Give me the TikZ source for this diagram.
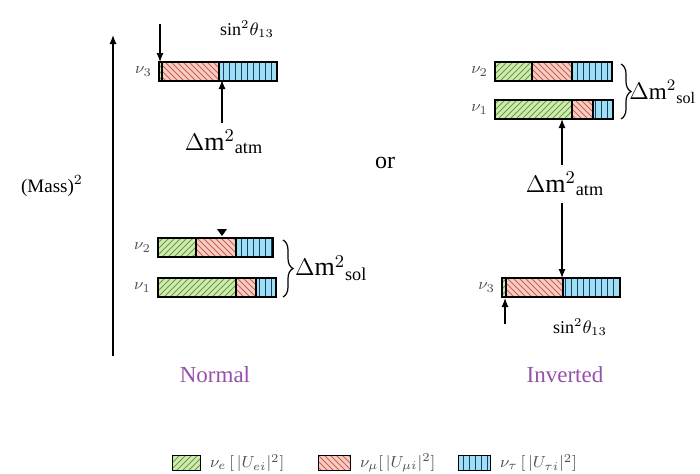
\documentclass[tikz,border=0pt]{standalone}
\usepackage{fontspec}
\setmainfont{Liberation Serif}
\usetikzlibrary{arrows.meta,patterns,decorations.pathreplacing}
\definecolor{egreen}{RGB}{208,234,180}
\definecolor{egreenline}{RGB}{105,160,60}
\definecolor{mupink}{RGB}{246,205,195}
\definecolor{mupinkline}{RGB}{205,95,85}
\definecolor{taublue}{RGB}{160,222,242}
\definecolor{taublueline}{RGB}{20,60,120}
\definecolor{hierpurple}{RGB}{150,80,170}
\definecolor{labelgray}{RGB}{80,80,80}

% one mass bar: name, top y, x0 (e), x1 (mu), x2 (tau), x3 (end)
\newcommand\massbar[6]{%
  \path[ve] (#3,#2) rectangle (#4,{#2+19});
  \path[vmu] (#4,#2) rectangle (#5,{#2+19});
  \path[vtau] (#5,#2) rectangle (#6,{#2+19});
  \draw[barline] (#3,#2) rectangle (#6,{#2+19});
  \draw[barline] (#4,#2) -- (#4,{#2+19}) (#5,#2) -- (#5,{#2+19});
  \coordinate (#1) at (#3,{#2+9.5});
}

\begin{document}
\begin{tikzpicture}[x=0.5pt, y=-0.5pt,
    ve/.style={preaction={fill=egreen}, pattern=north east lines, pattern color=egreenline},
    vmu/.style={preaction={fill=mupink}, pattern=north west lines, pattern color=mupinkline},
    vtau/.style={preaction={fill=taublue}, pattern=vertical lines, pattern color=taublueline},
    barline/.style={draw=black, line width=0.6pt},
    arr/.style={-{Latex[length=4.5pt,width=3.5pt]}, line width=0.6pt},
    nu/.style={font=\fontsize{8}{9}\selectfont, text=labelgray, anchor=east},
    dm/.style={font=\fontsize{13}{15}\selectfont},
    small/.style={font=\fontsize{9}{10}\selectfont},
    hier/.style={font=\fontsize{11.5}{13}\selectfont, text=hierpurple},
    legend/.style={font=\fontsize{8}{9}\selectfont, text=labelgray, anchor=west}
  ]
  \useasboundingbox (0,0) rectangle (700,473);

  % mass axis
  \coordinate (axbot) at (113,356);
  \coordinate (axtop) at (113,35);
  \draw[arr] (axbot) -- (axtop);
  \node[font=\fontsize{9.5}{11}\selectfont] (mass) at (52,186) {(Mass)$^2$};

  % normal hierarchy
  \massbar{n3}{62}{159}{162}{219}{277}
  \massbar{n2}{238}{158}{196}{236}{273}
  \massbar{n1}{278}{158}{236}{256}{276}
  \node[nu] (n3lbl) at (n3) {$\nu_3$};
  \node[nu] (n2lbl) at (n2) {$\nu_2$};
  \node[nu] (n1lbl) at (n1) {$\nu_1$};
  \node[small] (nsin) at (247,29) {sin$^2\theta_{13}$};
  \coordinate (nsinstart) at (160,24);
  \coordinate (nsinend) at (160,62);
  \draw[arr] (nsinstart) -- (nsinend);
  \node[dm] (natm) at (224,142) {$\Delta\mathrm{m}^2{}_{\mathrm{atm}}$};
  \coordinate (natmend) at (222,80);
  \draw[arr] (natm.north -| natmend) -- (natmend);
  \fill (217,229) -- (227,229) -- (222,236) -- cycle;
  \draw[decorate, decoration={brace, amplitude=5pt}, line width=0.6pt] (283,240) -- (283,297);
  \node[dm, anchor=west] (nsol) at (288,268) {$\Delta\mathrm{m}^2{}_{\mathrm{sol}}$};
  \node[hier] (normal) at (215,375) {Normal};

  \node[font=\fontsize{12}{14}\selectfont] (or) at (385,163) {or};

  % inverted hierarchy
  \massbar{i2}{62}{495}{532}{572}{612}
  \massbar{i1}{100}{495}{572}{593}{613}
  \massbar{i3}{278}{502}{506}{563}{620}
  \node[nu] (i2lbl) at (i2) {$\nu_2$};
  \node[nu] (i1lbl) at (i1) {$\nu_1$};
  \node[nu] (i3lbl) at (i3) {$\nu_3$};
  \draw[decorate, decoration={brace, amplitude=5pt}, line width=0.6pt] (621,64) -- (621,119);
  \node[dm, anchor=west, font=\fontsize{11.5}{13}\selectfont, inner sep=1pt] (isol) at (627,92) {$\Delta\mathrm{m}^2{}_{\mathrm{sol}}$};
  \node[dm] (iatm) at (565,184) {$\Delta\mathrm{m}^2{}_{\mathrm{atm}}$};
  \coordinate (iatmtop) at (562,119);
  \coordinate (iatmbot) at (562,278);
  \draw[arr] (iatm.north -| iatmtop) -- (iatmtop);
  \draw[arr] (iatm.south -| iatmbot) -- (iatmbot);
  \coordinate (isinstart) at (505,324);
  \coordinate (isinend) at (505,298);
  \draw[arr] (isinstart) -- (isinend);
  \node[small] (isin) at (580,327) {sin$^2\theta_{13}$};
  \node[hier] (inverted) at (565,375) {Inverted};

  % legend
  \draw[ve, draw=black, line width=0.5pt] (172,455) rectangle (200,470);
  \node[legend] (lege) at (203,463) {$\nu_e\,[\,|U_{ei}|^2]$};
  \draw[vmu, draw=black, line width=0.5pt] (318,455) rectangle (350,470);
  \node[legend] (legmu) at (353,463) {$\nu_\mu[\,|U_{\mu i}|^2]$};
  \draw[vtau, draw=black, line width=0.5pt] (458,455) rectangle (490,470);
  \node[legend] (legtau) at (493,463) {$\nu_\tau\,[\,|U_{\tau i}|^2]$};
\end{tikzpicture}
\end{document}
